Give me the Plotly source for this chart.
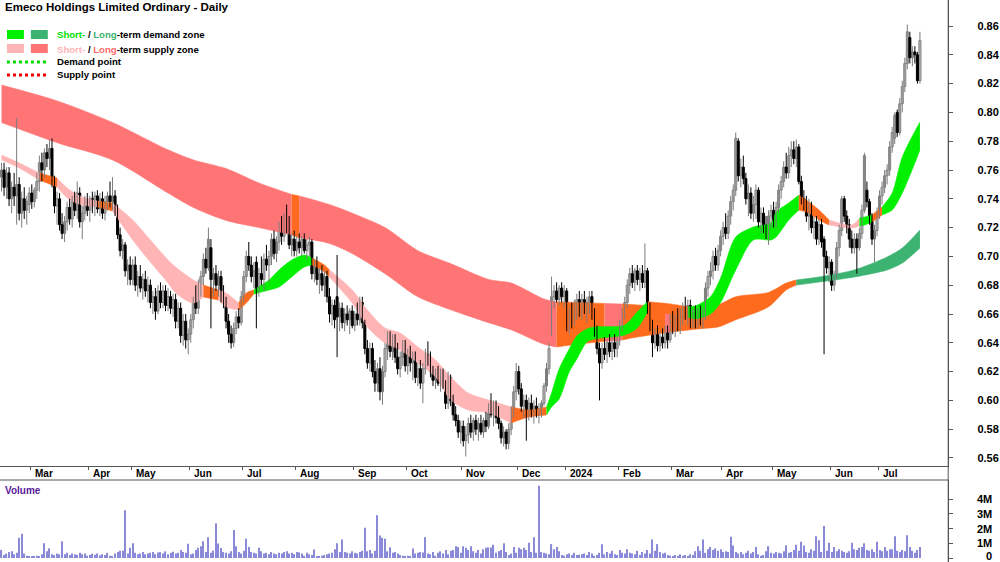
import plotly.graph_objects as go

# ---------------- data ----------------
open_ = [
.755,.760,.748,.758,.740,.748,.742,.750,.730,.740,
.732,.736,.744,.738,.746,.752,.765,.760,.772,.768,
.775,.752,.735,.740,.722,.716,.724,.734,.726,.738,
.732,.744,.724,.730,.738,.732,.740,.736,.742,.733,
.740,.730,.738,.742,.738,.742,.732,.715,.704,.708,
.690,.694,.684,.694,.680,.686,.678,.684,.676,.680,
.668,.672,.662,.676,.668,.676,.666,.672,.664,.670,
.655,.664,.645,.655,.642,.646,.656,.668,.664,.680,
.686,.698,.692,.706,.684,.688,.680,.686,.672,.668,
.655,.646,.640,.650,.658,.654,.672,.686,.700,.694,
.686,.696,.676,.688,.684,.698,.694,.700,.712,.702,
.710,.720,.714,.726,.722,.708,.712,.704,.710,.706,
.712,.704,.708,.710,.688,.694,.684,.688,.680,.686,
.672,.660,.666,.672,.658,.664,.654,.660,.656,.662,
.652,.660,.656,.668,.654,.636,.626,.636,.620,.612,
.622,.606,.620,.636,.644,.634,.642,.630,.622,.630,
.638,.624,.632,.626,.630,.616,.622,.612,.622,.632,
.628,.620,.614,.618,.612,.618,.610,.598,.616,.600,
.590,.586,.578,.582,.572,.576,.584,.578,.586,.580,
.584,.578,.586,.582,.594,.590,.596,.588,.584,.574,
.578,.570,.580,.592,.606,.620,.608,.596,.600,.590,
.598,.592,.596,.590,.594,.598,.610,.622,.650,.672,
.676,.670,.678,.672,.676,.652,.660,.656,.666,.670,
.662,.670,.664,.668,.672,.660,.648,.636,.626,.636,
.632,.640,.634,.640,.636,.642,.652,.660,.668,.680,
.688,.682,.690,.684,.688,.682,.690,.664,.652,.640,
.646,.638,.644,.640,.648,.642,.656,.650,.656,.652,
.660,.664,.660,.666,.654,.660,.654,.662,.656,.660,
.678,.686,.690,.700,.694,.704,.714,.720,.716,.728,
.738,.746,.780,.756,.762,.754,.740,.744,.730,.736,
.746,.724,.730,.720,.716,.728,.732,.724,.734,.746,
.752,.762,.758,.770,.774,.768,.776,.752,.740,.738,
.728,.734,.720,.724,.712,.722,.712,.700,.692,.696,
.680,.686,.706,.718,.740,.728,.722,.712,.706,.712,
.706,.716,.732,.746,.738,.726,.712,.718,.730,.742,
.748,.756,.760,.776,.782,.800,.786,.806,.818,.834,
.852,.838,.842,.840,.822]

high = [
.765,.765,.762,.762,.752,.758,.796,.755,.745,.748,
.742,.748,.750,.748,.758,.770,.772,.775,.778,.781,
.782,.756,.745,.744,.730,.728,.738,.740,.742,.745,
.752,.748,.735,.742,.744,.742,.745,.745,.746,.744,
.745,.742,.745,.752,.755,.746,.736,.720,.712,.710,
.698,.700,.698,.700,.690,.694,.688,.690,.686,.684,
.676,.678,.680,.682,.680,.680,.678,.676,.674,.674,
.668,.668,.660,.660,.650,.660,.672,.680,.684,.690,
.702,.706,.720,.712,.692,.694,.690,.690,.680,.672,
.660,.652,.654,.662,.664,.676,.690,.704,.710,.700,
.696,.700,.692,.700,.702,.708,.704,.716,.718,.714,
.724,.728,.730,.736,.728,.716,.718,.714,.716,.714,
.716,.712,.714,.712,.698,.700,.692,.694,.690,.690,
.678,.670,.670,.701,.668,.668,.664,.666,.664,.666,
.662,.668,.672,.672,.656,.642,.640,.640,.628,.626,
.630,.624,.640,.648,.648,.646,.646,.640,.634,.642,
.642,.636,.638,.634,.634,.626,.628,.626,.636,.641,
.634,.624,.622,.624,.622,.622,.614,.620,.618,.604,
.596,.590,.586,.586,.582,.588,.590,.588,.590,.588,
.590,.588,.592,.598,.605,.600,.600,.596,.586,.582,
.580,.584,.596,.610,.626,.624,.612,.604,.604,.602,
.604,.600,.602,.598,.600,.612,.626,.640,.686,.680,
.682,.680,.682,.680,.678,.664,.668,.670,.674,.676,
.674,.676,.672,.676,.676,.664,.652,.640,.640,.644,
.642,.646,.644,.646,.644,.656,.664,.672,.684,.692,
.694,.692,.694,.692,.694,.709,.692,.668,.656,.650,
.652,.648,.650,.652,.652,.660,.662,.660,.664,.664,
.668,.672,.670,.670,.664,.666,.664,.666,.664,.682,
.690,.696,.704,.706,.708,.718,.724,.730,.732,.742,
.750,.786,.782,.768,.770,.758,.750,.748,.742,.750,
.748,.734,.734,.728,.732,.736,.738,.738,.750,.756,
.766,.772,.776,.780,.780,.781,.778,.756,.746,.742,
.740,.738,.728,.728,.726,.726,.714,.704,.700,.698,
.690,.710,.722,.742,.742,.732,.726,.718,.716,.716,
.720,.736,.772,.752,.740,.730,.722,.734,.746,.752,
.760,.764,.780,.790,.800,.802,.810,.822,.838,.861,
.856,.846,.846,.842,.856]

low = [
.745,.742,.740,.735,.730,.735,.722,.725,.720,.726,
.722,.730,.733,.734,.740,.745,.752,.755,.762,.760,
.748,.730,.722,.718,.712,.710,.718,.722,.720,.728,
.726,.720,.712,.725,.728,.724,.730,.728,.730,.728,
.726,.725,.732,.734,.732,.728,.712,.700,.698,.686,
.680,.680,.680,.676,.672,.675,.670,.672,.668,.664,
.660,.656,.660,.664,.664,.662,.662,.660,.658,.650,
.650,.640,.638,.636,.632,.640,.650,.660,.660,.672,
.680,.688,.690,.650,.672,.676,.672,.668,.664,.650,
.640,.636,.637,.646,.650,.652,.668,.682,.690,.682,
.678,.650,.672,.680,.676,.690,.682,.694,.698,.696,
.704,.708,.710,.716,.705,.700,.700,.700,.702,.700,
.702,.698,.700,.684,.682,.680,.674,.676,.672,.668,
.654,.652,.650,.630,.648,.650,.648,.652,.646,.650,
.648,.652,.652,.650,.632,.622,.620,.616,.606,.606,
.600,.597,.616,.628,.630,.628,.626,.618,.616,.624,
.620,.618,.620,.614,.612,.610,.608,.598,.618,.624,
.616,.610,.608,.610,.606,.608,.594,.594,.596,.586,
.582,.574,.570,.568,.561,.570,.574,.572,.576,.572,
.576,.574,.578,.580,.588,.582,.584,.580,.570,.568,
.566,.566,.576,.588,.600,.604,.592,.588,.572,.586,
.588,.584,.588,.584,.588,.596,.606,.618,.645,.664,
.668,.666,.668,.664,.648,.646,.650,.652,.656,.658,
.656,.660,.654,.660,.656,.644,.632,.600,.622,.628,
.626,.630,.628,.630,.630,.638,.648,.656,.664,.674,
.678,.676,.680,.676,.678,.678,.660,.648,.630,.636,
.634,.634,.636,.636,.636,.640,.646,.644,.648,.646,
.652,.656,.652,.650,.650,.650,.650,.652,.650,.656,
.672,.680,.684,.690,.690,.700,.708,.712,.712,.722,
.732,.742,.752,.748,.750,.736,.728,.726,.724,.726,
.720,.716,.716,.712,.708,.720,.720,.720,.730,.740,
.748,.754,.754,.762,.764,.762,.750,.736,.732,.724,
.718,.716,.712,.708,.708,.706,.632,.688,.682,.676,
.676,.684,.700,.714,.724,.716,.706,.702,.702,.688,
.704,.712,.730,.734,.722,.708,.696,.714,.726,.736,
.744,.750,.756,.772,.778,.783,.784,.800,.814,.830,
.834,.832,.834,.820,.820]

close = [
.760,.748,.758,.740,.748,.742,.750,.730,.740,.732,
.738,.744,.738,.746,.752,.765,.760,.772,.768,.775,
.752,.735,.740,.722,.716,.724,.734,.726,.738,.732,
.744,.724,.730,.738,.732,.740,.736,.742,.733,.740,
.730,.738,.742,.738,.742,.732,.715,.704,.708,.690,
.694,.684,.694,.680,.686,.678,.684,.676,.680,.668,
.672,.662,.676,.668,.676,.666,.672,.664,.670,.655,
.664,.645,.655,.642,.646,.656,.668,.664,.680,.686,
.698,.692,.712,.684,.688,.680,.686,.672,.668,.655,
.646,.640,.650,.658,.654,.672,.686,.700,.694,.686,
.690,.676,.688,.684,.698,.694,.700,.712,.702,.710,
.720,.714,.726,.722,.708,.712,.704,.710,.706,.712,
.704,.708,.710,.688,.694,.684,.688,.680,.686,.672,
.660,.666,.656,.658,.664,.654,.660,.656,.662,.652,
.660,.656,.668,.654,.636,.626,.636,.620,.612,.622,
.606,.620,.636,.644,.634,.642,.630,.622,.630,.638,
.624,.632,.626,.630,.616,.622,.612,.622,.632,.628,
.620,.614,.618,.612,.618,.610,.598,.616,.600,.590,
.586,.578,.582,.572,.576,.584,.578,.586,.580,.584,
.578,.586,.582,.594,.590,.596,.588,.584,.574,.578,
.570,.580,.592,.606,.620,.608,.596,.600,.590,.598,
.592,.596,.590,.594,.598,.610,.622,.636,.672,.676,
.670,.678,.672,.676,.652,.660,.656,.666,.670,.662,
.670,.664,.668,.672,.660,.648,.636,.626,.636,.632,
.640,.634,.640,.636,.642,.652,.660,.668,.680,.688,
.682,.690,.684,.688,.682,.690,.664,.652,.640,.646,
.638,.644,.640,.648,.642,.656,.650,.656,.652,.660,
.664,.660,.666,.654,.660,.654,.662,.656,.660,.678,
.686,.690,.700,.694,.704,.714,.720,.716,.728,.738,
.746,.782,.756,.762,.754,.740,.744,.730,.736,.746,
.724,.730,.720,.716,.728,.732,.724,.734,.746,.752,
.762,.758,.770,.774,.768,.776,.752,.740,.738,.728,
.734,.720,.724,.712,.722,.710,.700,.692,.696,.680,
.686,.706,.718,.740,.728,.722,.712,.706,.712,.706,
.716,.732,.770,.738,.726,.712,.718,.730,.742,.748,
.756,.760,.776,.786,.798,.786,.806,.818,.834,.856,
.838,.842,.840,.822,.850]

# volume in millions of shares
volume = [
.55,.20,.30,.40,.45,.25,.35,1.37,1.64,.30,
.15,.10,.08,.12,.15,.10,.25,1.00,.45,.65,
.25,.20,.30,.25,1.14,.25,.35,.20,.30,.25,
.20,.35,.25,.30,.15,.20,.28,.22,.30,.18,
.25,.20,.35,.15,.12,.30,.40,.50,.50,3.24,
.30,.70,1.00,.35,.25,.30,.40,.25,.30,.35,
.40,.25,.38,.40,.30,.45,.25,.35,.42,.30,
.35,.55,.40,.35,.96,.25,.30,.55,.70,.80,
1.14,.40,1.40,.35,.50,2.35,.98,.68,.40,.35,
.30,.45,1.90,.80,.40,.30,.50,1.30,.75,.40,
.35,.30,.70,.45,.30,.35,.25,.40,.30,.25,
.35,.30,.40,.45,.30,.35,.25,.40,.38,.30,
.15,.35,.25,.20,.57,.10,.08,.15,.20,.25,
.30,.35,.60,1.00,.40,1.26,.40,.35,.30,.45,
.35,.30,.40,.50,2.05,.45,.55,.30,.50,2.90,
1.53,1.37,1.30,.45,.73,.35,.40,.30,.20,.15,
.10,.15,.08,.64,.30,.35,.40,.38,1.40,.30,
.25,.40,.15,.35,.45,.30,.55,.25,.50,.55,
.80,.75,.35,.80,.70,.55,.80,.45,.35,.55,
.30,.60,.70,.72,.72,.90,.35,.45,.55,1.00,
.40,.20,.30,.75,.35,.70,.60,.70,.55,1.03,
.40,1.40,.35,4.90,.40,.35,.30,.25,.94,.60,
.75,.45,.20,.15,.25,.30,.20,.35,.20,.22,
.25,.30,.20,.40,.30,.15,.20,.35,.94,.25,
.40,.30,.50,.25,.20,.55,.35,.30,.60,.35,
.30,.25,.50,.20,.40,.30,.55,.30,1.26,.50,
.94,.40,.30,.35,.20,.15,.10,.20,.15,.25,
.15,.20,.10,.25,.20,.45,.80,.50,1.26,.35,
.60,.75,.55,.65,.50,.60,.40,.45,.40,1.44,
.85,.40,.30,.40,.25,.35,.50,.30,.40,.75,
.25,.15,.20,.45,.80,.35,.30,.40,.35,.30,
.45,.87,.35,.40,.55,.90,.50,1.10,.85,.40,
.35,.60,.50,1.48,1.20,.40,2.17,.50,1.03,.40,
.75,.45,.60,.50,.40,.35,.45,1.03,.60,.55,
.70,.75,1.00,.55,.50,.60,.40,1.10,.55,.45,
.75,.50,.60,.60,1.48,.50,.40,.55,.45,1.55,
.75,.50,.35,.55,.75]

# long-term zone (upper / lower edge) read at these bar positions; zone of the span that follows
long_idx = [0, 22, 44, 66, 76, 89, 102, 115, 118, 130, 139, 152, 165, 178, 193, 202, 215, 220, 228, 239,
            246, 252, 263, 265, 278, 284, 291, 304, 311, 315, 324, 338, 351, 357, 364]
long_up = [.819, .808, .793, .774, .767, .761, .751, .743, .742, .736, .730, .720, .704, .695, .684, .6815, .6704, .6683, .6680, .6673,
           .6669, .6663, .6650, .6649, .6650, .6663, .672, .675, .6815, .6836, .6857, .6906, .6996, .7058, .7183]
long_lo = [.793, .779, .767, .744, .734, .725, .720, .715, .713, .709, .702, .688, .672, .663, .654, .649, .6390, .6371, .6390, .6410,
           .6420, .6440, .6470, .6475, .6500, .6510, .656, .665, .6767, .6801, .6822, .6857, .6906, .6954, .7058]
long_zone = ['R', 'R', 'R', 'R', 'R', 'R', 'R', 'O', 'R', 'R', 'R', 'R', 'R', 'R', 'R', 'R', 'R', 'O', 'O', 'R',
             'O', 'O', 'R', 'O', 'O', 'O', 'O', 'O', 'O', 'D', 'D', 'D', 'D', 'D', 'D']

# short-term zone
short_idx = [0, 7, 15, 22, 27, 32, 38, 44, 52, 59,
             66, 69, 76, 80, 86, 89, 94, 97, 100, 106,
             110, 115, 120, 123, 128, 130, 139, 145, 152, 158,
             165, 172, 178, 185, 193, 202, 209, 216, 218, 221,
             225, 228, 232, 235, 247, 252, 256, 265, 272, 275,
             281, 285, 291, 298, 305, 307, 312, 316, 320, 324,
             328, 337, 340, 342, 345, 349, 353, 357, 364]
short_up = [.7704, .7649, .7579, .7544, .7461, .7413, .7385, .7371, .7253, .7114,
            .6975, .6926, .6836, .6801, .6767, .6746, .6676, .6746, .6767, .6836,
            .6906, .6975, .7010, .6989, .6940, .6906, .6767, .6628, .6503, .6468,
            .6371, .6281, .6163, .6051, .6003, .5954, .5933, .5954, .6051, .6218,
            .6357, .6447, .6496, .6510, .6524, .6615, .6685, .6670, .6650, .6656,
            .6720, .6850, .7135, .7204, .7232, .7308, .7371, .7426, .7378, .7322,
            .7253, .7218, .7267, .7273, .7288, .7343, .7440, .7690, .7933]
short_lo = [.7669, .7614, .7531, .7482, .7392, .7357, .7343, .7315, .7114, .6961,
            .6815, .6746, .6676, .6718, .6697, .6649, .6628, .6676, .6739, .6767,
            .6788, .6857, .6926, .6940, .6892, .6857, .6676, .6510, .6399, .6350,
            .6260, .6163, .6003, .5933, .5913, .5843, .5885, .5899, .5954, .6010,
            .6198, .6287, .6406, .6426, .6454, .6503, .6615, .6600, .6580, .6566,
            .6600, .6680, .6906, .7114, .7114, .7135, .7253, .7322, .7301, .7253,
            .7218, .7197, .7211, .7218, .7239, .7288, .7322, .7440, .7739]
short_zone = ['P', 'P', 'O', 'P', 'P', 'P', 'O', 'P', 'P', 'P',
              'P', 'P', 'P', 'O', 'P', 'P', 'O', 'O', 'G', 'G',
              'G', 'G', 'G', 'O', 'O', 'P', 'P', 'P', 'P', 'P',
              'P', 'P', 'P', 'P', 'P', 'O', 'O', 'G', 'G', 'G',
              'G', 'G', 'G', 'G', 'G', 'G', 'O', 'O', 'G', 'G',
              'G', 'G', 'G', 'G', 'G', 'G', 'G', 'O', 'O', 'O',
              'P', 'P', 'G', 'G', 'O', 'G', 'G', 'G', 'G']

month_idx = [12, 35, 52, 75, 96, 117, 140, 161, 183, 205, 224, 245, 266, 286, 306, 329, 348]
month_lbl = ['Mar', 'Apr', 'May', 'Jun', 'Jul', 'Aug', 'Sep', 'Oct', 'Nov', 'Dec', '2024',
             'Feb', 'Mar', 'Apr', 'May', 'Jun', 'Jul']
price_ticks = [0.56, 0.58, 0.60, 0.62, 0.64, 0.66, 0.68, 0.70, 0.72, 0.74, 0.76, 0.78, 0.80, 0.82, 0.84, 0.86]
vol_ticks = [0, 1, 2, 3, 4]
vol_lbl = ['0', '1M', '2M', '3M', '4M']

assert len(open_) == len(high) == len(low) == len(close) == len(volume) == 365
assert len(long_idx) == len(long_up) == len(long_lo) == len(long_zone)
assert len(short_idx) == len(short_up) == len(short_lo) == len(short_zone)

# ---------------- styling ----------------
W, H = 1000, 562
FONT = "Liberation Sans, Arial, sans-serif"
ZCOL = {'R': '#ff7575', 'P': '#ffb5b5', 'O': '#ff6b1e', 'G': '#00f000', 'D': '#3cb371'}
UPC, DNC = '#7c7c7c', '#000000'
x = list(range(len(close)))


def px(v):
    return v / W


def py(v):
    return 1 - v / H


fig = go.Figure()


def add_zone(idx, up, lo, zone):
    n = len(idx)
    j = 0
    while j < n - 1:
        c = zone[j]
        k = j
        while k < n - 1 and zone[k] == c:
            k += 1
        seg = range(j, k + 1)
        xs = [idx[s] for s in seg]
        fig.add_trace(go.Scatter(x=xs, y=[lo[s] for s in seg], mode='lines',
                                 line=dict(color=ZCOL[c], width=0.6, shape='spline', smoothing=0.8),
                                 hoverinfo='skip', showlegend=False))
        fig.add_trace(go.Scatter(x=xs, y=[up[s] for s in seg], mode='lines', fill='tonexty',
                                 fillcolor=ZCOL[c],
                                 line=dict(color=ZCOL[c], width=0.6, shape='spline', smoothing=0.8),
                                 hoverinfo='skip', showlegend=False))
        j = k


add_zone(long_idx, long_up, long_lo, long_zone)
add_zone(short_idx, short_up, short_lo, short_zone)

# candles: wicks + bodies
for is_up, col, fill in ((True, UPC, '#ffffff'), (False, DNC, DNC)):
    sel = [i for i in x if (close[i] >= open_[i]) == is_up]
    wx, wy = [], []
    for i in sel:
        wx += [i, i, None]
        wy += [low[i], high[i], None]
    fig.add_trace(go.Scatter(x=wx, y=wy, mode='lines', line=dict(color=col, width=1),
                             hoverinfo='skip', showlegend=False))
    fig.add_trace(go.Bar(x=sel,
                         y=[max(abs(close[i] - open_[i]), 0.0008) for i in sel],
                         base=[min(close[i], open_[i]) for i in sel],
                         width=0.8, marker=dict(color=fill, line=dict(color=col, width=1)),
                         hoverinfo='skip', showlegend=False, xaxis='x', yaxis='y'))

fig.add_trace(go.Bar(x=x, y=volume, width=0.45, marker=dict(color='#8a8ad8', line=dict(width=0)),
                     showlegend=False, hoverinfo='skip', xaxis='x2', yaxis='y2'))

XR = [-0.6, 375.2]
fig.update_layout(
    width=W, height=H, margin=dict(l=0, r=0, t=0, b=0), barmode='overlay',
    paper_bgcolor='white', plot_bgcolor='white', showlegend=False,
    font=dict(family=FONT, size=10, color='black'),
    xaxis=dict(domain=[0, 0.952], range=XR, anchor='y', showgrid=False, zeroline=False,
               showline=True, linecolor='#555555', linewidth=1,
               tickmode='array', tickvals=[m - 0.5 for m in month_idx], ticks='outside',
               ticklen=3, tickcolor='#555555', showticklabels=False),
    yaxis=dict(domain=[1 - 466 / H, 1], range=[0.55444, 0.87806], side='right', anchor='x',
               showgrid=False, zeroline=False, showline=True, linecolor='#555555', linewidth=1,
               tickmode='array', tickvals=price_ticks, ticktext=[f'{t:.2f}' for t in price_ticks],
               ticks='outside', ticklen=4, tickcolor='#555555', ticklabelstandoff=22,
               tickfont=dict(family=FONT, size=11, color='black', weight='bold')),
    xaxis2=dict(domain=[0, 0.952], range=XR, anchor='y2', showgrid=False, zeroline=False,
                showline=False, showticklabels=False, ticks=''),
    yaxis2=dict(domain=[0, 82 / H], range=[-0.271, 5.288], side='right', anchor='x2',
                showgrid=False, zeroline=False, showline=True, linecolor='#555555', linewidth=1,
                tickmode='array', tickvals=vol_ticks, ticks='outside', ticklen=4,
                tickcolor='#555555', showticklabels=False),
)

shapes = [
    dict(type='line', xref='paper', yref='paper', x0=0, x1=0.952, y0=py(480), y1=py(480),
         line=dict(color='#555555', width=1)),
    dict(type='line', xref='paper', yref='paper', x0=0.952, x1=0.952, y0=0, y1=1,
         line=dict(color='#555555', width=1)),
    # legend swatches
    dict(type='rect', xref='paper', yref='paper', x0=px(7), x1=px(24), y0=py(39), y1=py(30),
         fillcolor=ZCOL['G'], line=dict(width=0)),
    dict(type='rect', xref='paper', yref='paper', x0=px(31), x1=px(48), y0=py(39), y1=py(30),
         fillcolor=ZCOL['D'], line=dict(width=0)),
    dict(type='rect', xref='paper', yref='paper', x0=px(7), x1=px(24), y0=py(53), y1=py(44),
         fillcolor=ZCOL['P'], line=dict(width=0)),
    dict(type='rect', xref='paper', yref='paper', x0=px(31), x1=px(48), y0=py(53), y1=py(44),
         fillcolor=ZCOL['R'], line=dict(width=0)),
    dict(type='line', xref='paper', yref='paper', x0=px(7), x1=px(47), y0=py(62), y1=py(62),
         line=dict(color='#00dd00', width=3, dash='dot')),
    dict(type='line', xref='paper', yref='paper', x0=px(7), x1=px(47), y0=py(75), y1=py(75),
         line=dict(color='#ee0000', width=3, dash='dot')),
]
fig.update_layout(shapes=shapes)

ann = []
bold = dict(family=FONT, size=9.6, color='black', weight='bold')
ann.append(dict(text='Emeco Holdings Limited Ordinary - Daily', xref='paper', yref='paper',
                x=px(3), y=py(7), xanchor='left', yanchor='middle', showarrow=False,
                font=dict(family=FONT, size=11.5, color='black', weight='bold')))
ann.append(dict(text="<span style='color:#00e000'>Short-</span> / <span style='color:#3cb371'>Long</span>-term demand zone",
                xref='paper', yref='paper', x=px(55), y=py(35), xanchor='left', yanchor='middle',
                showarrow=False, font=bold))
ann.append(dict(text="<span style='color:#ffb5b5'>Short-</span> / <span style='color:#ff6b6b'>Long</span>-term supply zone",
                xref='paper', yref='paper', x=px(55), y=py(49), xanchor='left', yanchor='middle',
                showarrow=False, font=bold))
ann.append(dict(text='Demand point', xref='paper', yref='paper', x=px(55), y=py(62),
                xanchor='left', yanchor='middle', showarrow=False, font=bold))
ann.append(dict(text='Supply point', xref='paper', yref='paper', x=px(55), y=py(75),
                xanchor='left', yanchor='middle', showarrow=False, font=bold))
ann.append(dict(text='Volume', xref='paper', yref='paper', x=px(3), y=py(490),
                xanchor='left', yanchor='middle', showarrow=False,
                font=dict(family=FONT, size=10, color='#5a1a9a', weight='bold')))
mfont = dict(family=FONT, size=10, color='black', weight='bold')
for m, lbl in zip(month_idx, month_lbl):
    ann.append(dict(text=lbl, xref='x', yref='paper', x=m, y=py(473), xshift=1,
                    xanchor='left', yanchor='middle', showarrow=False, font=mfont))
for v, lbl in zip(vol_ticks, vol_lbl):
    ann.append(dict(text=lbl, xref='paper', yref='y2', x=0.998, y=v, xanchor='right',
                    yanchor='middle', yshift=(2 if v == 0 else 0), showarrow=False,
                    font=dict(family=FONT, size=11, color='black', weight='bold')))
fig.update_layout(annotations=ann)

fig.write_html("out.html", config={'displayModeBar': False},
               post_script="document.body.style.margin='0';document.body.style.overflow='hidden';")
